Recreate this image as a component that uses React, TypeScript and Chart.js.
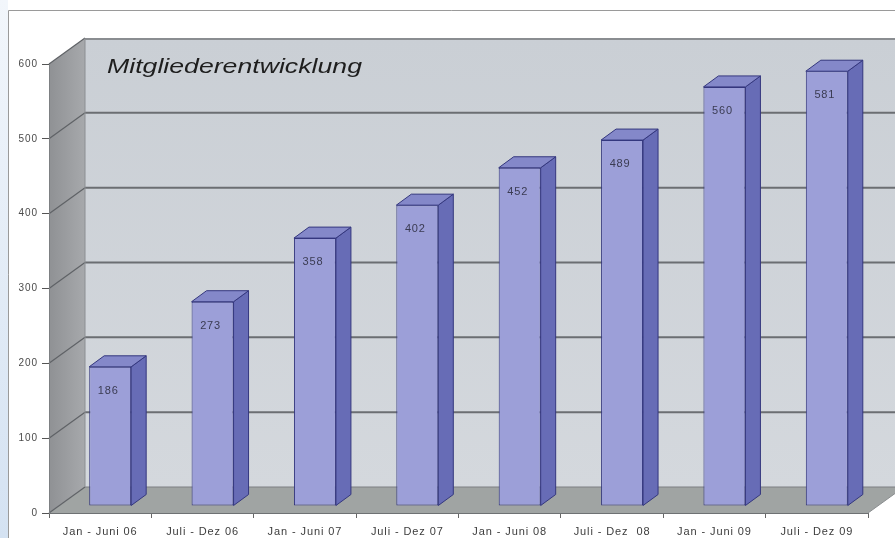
import React, { useEffect, useRef } from "react";
import { Chart, registerables } from "chart.js";

Chart.register(...registerables);

const categories = [
  "Jan - Juni 06",
  "Juli - Dez 06",
  "Jan - Juni 07",
  "Juli - Dez 07",
  "Jan - Juni 08",
  "Juli - Dez  08",
  "Jan - Juni 09",
  "Juli - Dez 09",
];
const members = [186, 273, 358, 402, 452, 489, 560, 581];
const yTicks = [0, 100, 200, 300, 400, 500, 600];
const chartTitle = "Mitgliederentwicklung";

const DEPTH_X = 36;
const DEPTH_Y = -26;
const BAR_DX = 10;
const BAR_DY = -7;
const BAR_SIDE_X = 15;
const BAR_SIDE_Y = -11;
const FONT = "'Liberation Sans', Arial, sans-serif";

const scenePlugin = {
  id: "scene3d",
  beforeDraw(chart: any) {
    const { ctx, width, height, chartArea } = chart;
    const yScale = chart.scales.y;
    const { left, right, top, bottom } = chartArea;
    ctx.save();
    ctx.fillStyle = "#ffffff";
    ctx.fillRect(0, 0, width, height);
    const lg = ctx.createLinearGradient(0, 0, 0, height);
    lg.addColorStop(0, "#f2f6fb");
    lg.addColorStop(1, "#d4e2f2");
    ctx.fillStyle = lg;
    ctx.fillRect(0, 0, 8, height);
    ctx.strokeStyle = "#9a9a9a";
    ctx.lineWidth = 1;
    ctx.beginPath();
    ctx.moveTo(8.5, height);
    ctx.lineTo(8.5, 10.5);
    ctx.lineTo(width, 10.5);
    ctx.stroke();

    const bx = left + DEPTH_X;
    const topBack = top + DEPTH_Y;
    const bottomBack = bottom + DEPTH_Y;

    const wg = ctx.createLinearGradient(0, topBack, 0, bottomBack);
    wg.addColorStop(0, "#cacfd5");
    wg.addColorStop(1, "#d4d8dd");
    ctx.fillStyle = wg;
    ctx.fillRect(bx, topBack, width - bx, bottomBack - topBack);

    const lwg = ctx.createLinearGradient(left, 0, bx, 0);
    lwg.addColorStop(0, "#8f9194");
    lwg.addColorStop(1, "#a7a9ac");
    ctx.fillStyle = lwg;
    ctx.beginPath();
    ctx.moveTo(left, top);
    ctx.lineTo(bx, topBack);
    ctx.lineTo(bx, bottomBack);
    ctx.lineTo(left, bottom);
    ctx.closePath();
    ctx.fill();

    ctx.fillStyle = "#a0a4a3";
    ctx.beginPath();
    ctx.moveTo(left, bottom);
    ctx.lineTo(right, bottom);
    ctx.lineTo(right + DEPTH_X, bottomBack);
    ctx.lineTo(bx, bottomBack);
    ctx.closePath();
    ctx.fill();

    ctx.strokeStyle = "#8a8d91";
    ctx.lineWidth = 2;
    ctx.beginPath();
    ctx.moveTo(bx, topBack + 1);
    ctx.lineTo(width, topBack + 1);
    ctx.stroke();

    yTicks.forEach((v) => {
      const yf = yScale.getPixelForValue(v);
      const yb = yf + DEPTH_Y;
      ctx.strokeStyle = "#5f6266";
      ctx.lineWidth = 1.2;
      ctx.beginPath();
      ctx.moveTo(left, yf);
      ctx.lineTo(bx, yb);
      ctx.stroke();
      if (v > 0 && v < 600) {
        ctx.strokeStyle = "#6b6e72";
        ctx.lineWidth = 2;
        ctx.beginPath();
        ctx.moveTo(bx, yb);
        ctx.lineTo(width, yb);
        ctx.stroke();
      }
    });
    ctx.strokeStyle = "#7c7f82";
    ctx.lineWidth = 1;
    ctx.beginPath();
    ctx.moveTo(bx, bottomBack);
    ctx.lineTo(width, bottomBack);
    ctx.stroke();
    ctx.strokeStyle = "#8a8d8f";
    ctx.beginPath();
    ctx.moveTo(right, bottom);
    ctx.lineTo(right + DEPTH_X, bottomBack);
    ctx.stroke();
    ctx.strokeStyle = "#8b8e92";
    ctx.beginPath();
    ctx.moveTo(bx, topBack);
    ctx.lineTo(bx, bottomBack);
    ctx.stroke();

    // title, horizontally widened like the reference
    ctx.save();
    ctx.translate(107, 73);
    ctx.scale(1.27, 1);
    ctx.fillStyle = "#1e1e1e";
    ctx.font = "italic 21px " + FONT;
    ctx.textAlign = "left";
    ctx.textBaseline = "alphabetic";
    ctx.fillText(chartTitle, 0, 0);
    ctx.restore();
    ctx.restore();
    (ctx as any).letterSpacing = "0.9px";
  },
  beforeDatasetsDraw(chart: any) {
    chart.ctx.save();
    chart.ctx.translate(BAR_DX, BAR_DY);
  },
  afterDatasetsDraw(chart: any) {
    const ctx = chart.ctx;
    const meta = chart.getDatasetMeta(0);
    meta.data.forEach((bar: any, i: number) => {
      const w = bar.width;
      const l = bar.x - w / 2;
      const r = bar.x + w / 2;
      const t = bar.y;
      const b = bar.base;
      ctx.lineWidth = 1;
      ctx.strokeStyle = "#34377e";
      ctx.fillStyle = "#676cb6";
      ctx.beginPath();
      ctx.moveTo(r, t);
      ctx.lineTo(r + BAR_SIDE_X, t + BAR_SIDE_Y);
      ctx.lineTo(r + BAR_SIDE_X, b + BAR_SIDE_Y);
      ctx.lineTo(r, b);
      ctx.closePath();
      ctx.fill();
      ctx.stroke();
      ctx.fillStyle = "#8488c9";
      ctx.beginPath();
      ctx.moveTo(l, t);
      ctx.lineTo(l + BAR_SIDE_X, t + BAR_SIDE_Y);
      ctx.lineTo(r + BAR_SIDE_X, t + BAR_SIDE_Y);
      ctx.lineTo(r, t);
      ctx.closePath();
      ctx.fill();
      ctx.stroke();
      ctx.fillStyle = "#3a3b52";
      ctx.font = "11px " + FONT;
      (ctx as any).letterSpacing = "0.8px";
      ctx.textAlign = "center";
      ctx.textBaseline = "middle";
      ctx.fillText(String(members[i]), bar.x - 2, t + 24);
    });
    ctx.restore();
  },
  afterDraw(chart: any) {
    (chart.ctx as any).letterSpacing = "0px";
  },
};

export default function App() {
  const ref = useRef<HTMLCanvasElement>(null);
  useEffect(() => {
    if (!ref.current) return;
    const chart = new Chart(ref.current, {
      type: "bar",
      data: {
        labels: categories,
        datasets: [
          {
            data: members,
            backgroundColor: "#9c9fd8",
            borderColor: "#34377e",
            borderWidth: 1,
            borderSkipped: false,
            barPercentage: 0.41,
            categoryPercentage: 1,
          },
        ],
      },
      options: {
        animation: false,
        responsive: false,
        maintainAspectRatio: false,
        layout: { padding: { top: 64, right: 27, left: 0, bottom: 0 } },
        plugins: { legend: { display: false }, tooltip: { enabled: false } },
        scales: {
          x: {
            afterFit: (s: any) => {
              s.height = 25;
            },
            grid: {
              offset: true,
              drawOnChartArea: false,
              drawTicks: true,
              tickLength: 5,
              color: "#666",
            },
            border: { display: true, color: "#6e7173", width: 1 },
            ticks: {
              color: "#3c3c3c",
              font: { family: FONT, size: 11 },
              padding: 7,
              maxRotation: 0,
              autoSkip: false,
            },
          },
          y: {
            min: 0,
            max: 600,
            afterFit: (s: any) => {
              s.width = 49;
            },
            afterBuildTicks: (s: any) => {
              s.ticks = yTicks.map((v) => ({ value: v }));
            },
            grid: {
              drawOnChartArea: false,
              drawTicks: true,
              tickLength: 7,
              color: "#555",
            },
            border: { display: true, color: "#7d8083", width: 1 },
            ticks: {
              color: "#4a4a4a",
              font: { family: FONT, size: 10 },
              padding: 4,
            },
          },
        },
      },
      plugins: [scenePlugin],
    });
    return () => chart.destroy();
  }, []);
  return (
    <div style={{ position: "fixed", left: 0, top: 0, width: 895, height: 538 }}>
      <canvas ref={ref} width={895} height={538} style={{ display: "block" }} />
    </div>
  );
}
